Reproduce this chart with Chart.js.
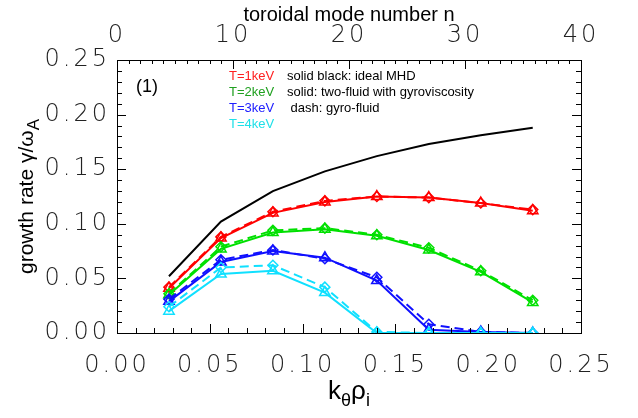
<!DOCTYPE html>
<html>
<head>
<meta charset="utf-8">
<script src="https://cdn.jsdelivr.net/npm/chart.js@4/dist/chart.umd.min.js"></script>
<style>
  html, body { margin: 0; padding: 0; background: #fff; }
  #wrap { width: 638px; height: 418px; position: relative; }
</style>
</head>
<body>
<div id="wrap"><canvas id="growthChart"></canvas></div>
<script>
// k_theta * rho_i of each computed mode
const kRho = [0.028, 0.056, 0.084, 0.112, 0.140, 0.168, 0.196, 0.224];
const idealMHD = [0.052, 0.102, 0.130, 0.148, 0.162, 0.173, 0.181, 0.188];
// two-fluid with gyroviscosity (solid)
const t1Solid = [0.041, 0.087, 0.110, 0.120, 0.125, 0.124, 0.119, 0.112];
const t2Solid = [0.035, 0.077, 0.092, 0.095, 0.089, 0.076, 0.056, 0.028];
const t3Solid = [0.029, 0.065, 0.075, 0.069, 0.048, 0.003, 0.001, 0.000];
const t4Solid = [0.020, 0.054, 0.057, 0.037, 0.000, 0.000, 0.000, 0.000];
// gyro-fluid (dashed)
const t1Dash = [0.042, 0.088, 0.111, 0.121, 0.125, 0.124, 0.119, 0.113];
const t2Dash = [0.036, 0.079, 0.094, 0.096, 0.090, 0.078, 0.057, 0.030];
const t3Dash = [0.031, 0.067, 0.076, 0.068, 0.051, 0.008, 0.001, 0.000];
const t4Dash = [0.024, 0.060, 0.062, 0.042, 0.001, 0.000, 0.000, 0.000];

const tempLabels = ['T=1keV', 'T=2keV', 'T=3keV', 'T=4keV'];
const tempColors = ['#ff0000', '#00e000', '#1010ff', '#10e0ff'];
const textColors = ['#ff2020', '#20a020', '#2020ff', '#20e0e8'];
const notes = ['solid black: ideal MHD', 'solid: two-fluid with gyroviscosity', ' dash: gyro-fluid'];

const toPts = (ys) => ys.map((y, i) => ({ x: kRho[i], y: y }));

function solidSet(ys, color) {
    return {
        data: toPts(ys), borderColor: color, backgroundColor: 'rgba(0,0,0,0)',
        borderWidth: 2, pointStyle: 'triangle', pointRadius: 6, pointBorderWidth: 1.5,
        pointBorderColor: color, pointBackgroundColor: 'rgba(0,0,0,0)', tension: 0
    };
}
function dashSet(ys, color) {
    return {
        data: toPts(ys), borderColor: color, backgroundColor: 'rgba(0,0,0,0)',
        borderWidth: 2, borderDash: [9, 5], pointStyle: 'rectRot', pointRadius: 5, pointBorderWidth: 1.5,
        pointBorderColor: color, pointBackgroundColor: 'rgba(0,0,0,0)', tension: 0
    };
}

const datasets = [
    { data: toPts(idealMHD), borderColor: '#000', borderWidth: 2, pointRadius: 0, tension: 0 },
    solidSet(t1Solid, tempColors[0]), dashSet(t1Dash, tempColors[0]),
    solidSet(t2Solid, tempColors[1]), dashSet(t2Dash, tempColors[1]),
    solidSet(t3Solid, tempColors[2]), dashSet(t3Dash, tempColors[2]),
    solidSet(t4Solid, tempColors[3]), dashSet(t4Dash, tempColors[3])
];
// later series are painted on top, like the original plot
datasets.forEach((d, i) => { d.order = datasets.length - i; });

const numFont = { family: 'DejaVu Sans', size: 24, weight: 200 };
const SPACING = '3px';

// helper for text with a subscript part
function drawParts(ctx, parts, x, y) {
    let w = 0;
    parts.forEach(p => { ctx.font = p[1]; w += ctx.measureText(p[0]).width; });
    let xx = x - w / 2;
    parts.forEach(p => { ctx.font = p[1]; ctx.fillText(p[0], xx, y + p[2]); xx += ctx.measureText(p[0]).width; });
}

// IDL style frame: box with inward major/minor ticks, subscripted titles, annotation text
const idlFrame = {
    id: 'idlFrame',
    beforeLayout(chart) { chart.ctx.letterSpacing = SPACING; },
    beforeDraw(chart) { chart.ctx.letterSpacing = SPACING; },
    afterDraw(chart) {
        const ctx = chart.ctx;
        const a = chart.chartArea;
        const sx = chart.scales.x, sx2 = chart.scales.x2, sy = chart.scales.y;
        ctx.save();
        ctx.letterSpacing = '0px';
        ctx.strokeStyle = '#000';
        ctx.lineWidth = 1;
        ctx.strokeRect(a.left + 0.5, a.top + 0.5, a.right - a.left, a.bottom - a.top);
        ctx.beginPath();
        for (let i = 1; i < 25; i++) {
            const v = i / 100;
            const len = i % 5 === 0 ? 9 : 5;
            const px = Math.round(sx.getPixelForValue(v)) + 0.5;
            ctx.moveTo(px, a.bottom); ctx.lineTo(px, a.bottom - len);
            const py = Math.round(sy.getPixelForValue(v)) + 0.5;
            ctx.moveTo(a.left, py); ctx.lineTo(a.left + len, py);
            ctx.moveTo(a.right, py); ctx.lineTo(a.right - len, py);
        }
        for (let n = 1; n < 40; n++) {
            const len = n % 10 === 0 ? 9 : 4;
            const px = Math.round(sx2.getPixelForValue(n)) + 0.5;
            ctx.moveTo(px, a.top); ctx.lineTo(px, a.top + len);
        }
        ctx.stroke();

        ctx.fillStyle = '#000';
        ctx.textBaseline = 'alphabetic';
        ctx.textAlign = 'left';
        const cx = (a.left + a.right) / 2;

        // x title k_theta rho_i
        drawParts(ctx, [['k', '26px "Liberation Sans"', 0], ['\u03b8', '18px "Liberation Sans"', 7],
            ['\u03c1', '26px "Liberation Sans"', 0], ['i', '18px "Liberation Sans"', 7]], cx, 399);

        // y title growth rate gamma/omega_A
        ctx.save();
        ctx.translate(33, (a.top + a.bottom) / 2);
        ctx.rotate(-Math.PI / 2);
        drawParts(ctx, [['growth rate \u03b3/\u03c9', '21px "Liberation Sans"', 0],
            ['A', '17px "Liberation Sans"', 6]], 0, 0);
        ctx.restore();

        // top title
        ctx.font = '20px "Liberation Sans"';
        ctx.textAlign = 'center';
        ctx.fillText('toroidal mode number n', cx, 21);

        // panel label and annotations
        ctx.textAlign = 'left';
        ctx.font = '18px "Liberation Sans"';
        ctx.fillText('(1)', a.left + 19, a.top + 32);
        ctx.font = '13px "Liberation Sans"';
        tempLabels.forEach((t, i) => {
            ctx.fillStyle = textColors[i];
            ctx.fillText(t, a.left + 112, a.top + 20 + i * 16);
        });
        ctx.fillStyle = '#000';
        notes.forEach((t, i) => ctx.fillText(t, a.left + 170, a.top + 20 + i * 16));
        ctx.restore();
    }
};

new Chart(document.getElementById('growthChart'), {
    type: 'line',
    data: { datasets: datasets },
    options: {
        responsive: true,
        maintainAspectRatio: false,
        animation: false,
        layout: { padding: { left: 0, right: 57, top: 0, bottom: 0 } },
        plugins: { legend: { display: false }, tooltip: { enabled: false } },
        scales: {
            x: {
                type: 'linear', position: 'bottom', min: 0, max: 0.25,
                grid: { display: false, drawTicks: false }, border: { display: false },
                ticks: { stepSize: 0.05, padding: 18, color: '#222', font: numFont, maxRotation: 0,
                    callback: (v) => Number(v).toFixed(2) },
                afterFit: (s) => { s.height = 85; }
            },
            x2: {
                type: 'linear', position: 'top', min: 0, max: 40,
                grid: { display: false, drawTicks: false }, border: { display: false },
                ticks: { stepSize: 10, padding: 10, color: '#222', font: numFont, maxRotation: 0 },
                afterFit: (s) => { s.height = 60; }
            },
            y: {
                type: 'linear', position: 'left', min: 0, max: 0.25,
                grid: { display: false, drawTicks: false }, border: { display: false },
                ticks: { stepSize: 0.05, padding: 7, color: '#222', font: numFont,
                    callback: (v) => Number(v).toFixed(2) },
                afterFit: (s) => { s.width = 117; }
            }
        }
    },
    plugins: [idlFrame]
});
</script>
</body>
</html>
